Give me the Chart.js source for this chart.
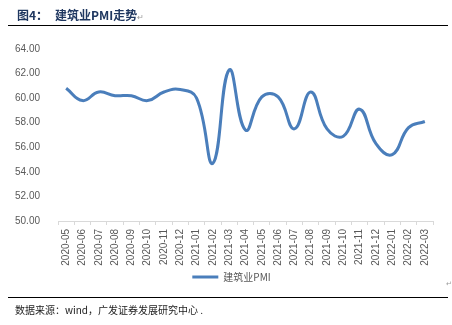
<!DOCTYPE html>
<html><head><meta charset="utf-8">
<script src="https://cdn.jsdelivr.net/npm/chart.js@4/dist/chart.umd.min.js"></script>
<style>
html,body{margin:0;padding:0;background:#fff;}
#wrap{position:relative;width:452px;height:325px;overflow:hidden;}
#c{position:absolute;left:0;top:0;}
.t{position:absolute;white-space:nowrap;}
</style></head><body>
<div id="wrap">
<canvas id="c" width="452" height="325"></canvas>
<div class="t" style="left:17px;top:6px;font:bold 12px 'Noto Sans CJK SC',sans-serif;color:#1f3760;">图4：</div>
<div class="t" style="left:55px;top:6px;font:bold 12px 'Noto Sans CJK SC',sans-serif;color:#1f3760;">建筑业PMI走势<span style="font-weight:normal;font-size:8px;color:#999;">↵</span></div>
<div style="position:absolute;left:8px;top:25px;width:440px;height:1px;background:#000;"></div>
<div class="t" style="left:446px;top:280px;font:7px sans-serif;color:#999;">↵</div>
<div style="position:absolute;left:8px;top:297px;width:440px;height:1px;background:#000;"></div>
<div class="t" style="left:15px;top:302px;font:10px 'Noto Sans CJK SC',sans-serif;color:#222;">数据来源：wind，广发证券发展研究中心 .</div>
</div>
<script>
const categories = ["2020-05","2020-06","2020-07","2020-08","2020-09","2020-10","2020-11","2020-12","2021-01","2021-02","2021-03","2021-04","2021-05","2021-06","2021-07","2021-08","2021-09","2021-10","2021-11","2021-12","2022-01","2022-02","2022-03"];
const pmiValues = [60.8,59.8,60.5,60.2,60.2,59.8,60.5,60.7,60.0,54.7,62.3,57.4,60.1,60.1,57.5,60.5,57.5,56.9,59.1,56.3,55.4,57.6,58.1];
const seriesName = "建筑业PMI";
const yMin = 50, yMax = 64, yStep = 2;

const legendShift = {
  id: 'legendShift',
  afterLayout(chart) {
    const lg = chart.legend;
    if (lg) { lg.left += 30; lg.right += 0; if (lg.adjustHitBoxes) lg.adjustHitBoxes(); }
  }
};

new Chart(document.getElementById('c'), {
  type: 'line',
  data: {
    labels: categories,
    datasets: [{
      label: seriesName,
      data: pmiValues,
      borderColor: '#4a7ebb',
      backgroundColor: '#4a7ebb',
      borderWidth: 3,
      pointRadius: 0,
      tension: 0.45,
      pointStyle: 'line'
    }]
  },
  plugins: [legendShift],
  options: {
    responsive: false,
    animation: false,
    devicePixelRatio: 1,
    layout: { padding: { top: 49, right: 19, left: 0, bottom: 33 } },
    plugins: {
      legend: {
        position: 'bottom',
        labels: {
          usePointStyle: true,
          pointStyleWidth: 26,
          boxHeight: 10,
          padding: 5,
          color: '#595959',
          font: { family: "'Noto Sans CJK SC', sans-serif", size: 10 }
        }
      },
      tooltip: { enabled: false }
    },
    scales: {
      x: {
        offset: true,
        grid: { display: true, drawOnChartArea: false, offset: true, color: '#d9d9d9', tickLength: 4 },
        border: { color: '#d9d9d9' },
        ticks: {
          minRotation: 90, maxRotation: 90, autoSkip: false, padding: 4,
          color: '#595959',
          font: { family: "'Liberation Sans', Arial, sans-serif", size: 10 }
        },
        afterFit: s => { s.height = 46; }
      },
      y: {
        min: yMin, max: yMax,
        grid: { display: false },
        border: { display: false },
        ticks: {
          stepSize: yStep, padding: 10,
          color: '#595959',
          font: { family: "'Liberation Sans', Arial, sans-serif", size: 10 },
          callback: v => v.toFixed(2)
        },
        afterFit: s => { s.width = 58; }
      }
    }
  }
});
</script>
</body></html>
